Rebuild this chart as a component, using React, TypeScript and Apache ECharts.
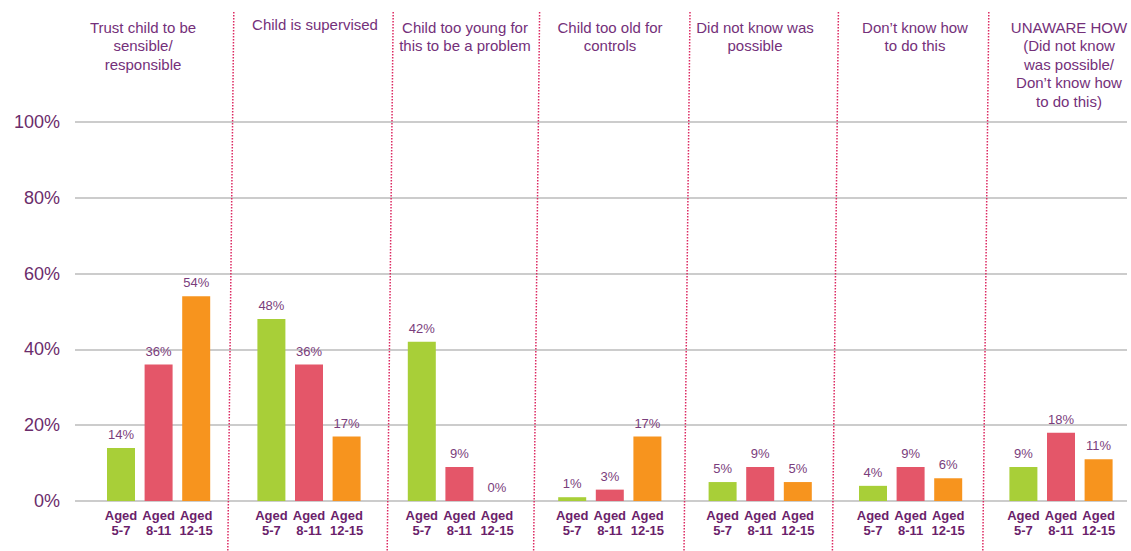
import React, { useEffect, useRef } from "react";
import * as echarts from "echarts";

const reasons = [
  "Trust child to be\nsensible/\nresponsible",
  "Child is supervised",
  "Child too young for\nthis to be a problem",
  "Child too old for\ncontrols",
  "Did not know was\npossible",
  "Don\u2019t know how\nto do this",
  "UNAWARE HOW\n(Did not know\nwas possible/\nDon\u2019t know how\nto do this)",
];
const ageGroups = ["Aged\n5-7", "Aged\n8-11", "Aged\n12-15"];
const aged5to7 = [14, 48, 42, 1, 5, 4, 9];
const aged8to11 = [36, 36, 9, 3, 9, 9, 18];
const aged12to15 = [54, 17, 0, 17, 5, 6, 11];
const yTicks = [0, 20, 40, 60, 80, 100];

const colors = ["#a8cf38", "#e45669", "#f7941e"];
const titleCenters = [143, 315, 465, 610, 755, 915, 1069];
const titleTops = [18, 15, 18, 18, 18, 18, 18];
const separatorShift = [-3, 6, 2, 2, 0, 0];
const FONT = "'Liberation Sans', Arial, Helvetica, sans-serif";

export default function App() {
  const ref = useRef<HTMLDivElement>(null);
  useEffect(() => {
    if (!ref.current) return;
    const chart = echarts.init(ref.current, undefined, { renderer: "svg" });

    const categories: string[] = [];
    const labelFor: string[] = [];
    reasons.forEach((_, g) => {
      ageGroups.forEach((a, i) => {
        categories.push(`${g}-${i}`);
        labelFor.push(a);
      });
      if (g < reasons.length - 1) {
        categories.push(`${g}-gap`);
        labelFor.push("");
      }
    });
    const seriesValues = [aged5to7, aged8to11, aged12to15];
    const series = seriesValues.map((vals, i) => {
      const data = categories.map((c) => {
        const [g, k] = c.split("-");
        if (k === String(i)) return vals[Number(g)];
        return "-";
      });
      return {
        type: "bar",
        name: ageGroups[i],
        xAxisIndex: 1,
        yAxisIndex: 1,
        data,
        barWidth: 28,
        barGap: "-100%",
        itemStyle: { color: colors[i] },
        label: {
          show: true,
          position: "top",
          distance: 7,
          formatter: "{c}%",
          color: "#7a3d7c",
          fontSize: 13,
          fontFamily: FONT,
        },
      };
    });

    chart.setOption({
      animation: false,
      grid: [
        { left: 75, right: 4, top: 122, bottom: 50 },
        { left: 102.2, width: 1015.2, top: 122, bottom: 50 },
      ],
      xAxis: [
        { type: "value", gridIndex: 0, show: false, min: 0, max: 1 },
        {
          type: "category",
          gridIndex: 1,
          data: categories,
          axisLine: { show: false },
          axisTick: { show: false },
          axisLabel: {
            interval: 0,
            margin: 6.5,
            lineHeight: 15,
            fontSize: 13,
            fontWeight: "bold",
            fontFamily: FONT,
            color: "#6b1f6b",
            formatter: (_v: string, idx: number) => labelFor[idx],
          },
        },
      ],
      yAxis: [
        {
          type: "value",
          gridIndex: 0,
          min: yTicks[0],
          max: yTicks[yTicks.length - 1],
          interval: 20,
          axisLine: { show: false },
          axisTick: { show: false },
          axisLabel: {
            margin: 15,
            fontSize: 18,
            fontFamily: FONT,
            color: "#6b2c6b",
            formatter: "{value}%",
          },
          splitLine: { lineStyle: { color: "#cccccc", width: 2 } },
        },
        {
          type: "value",
          gridIndex: 1,
          min: 0,
          max: 100,
          show: false,
          splitLine: { show: false },
        },
      ],
      series,
    });

    const graphics: any[] = [];
    reasons.forEach((r, g) => {
      graphics.push({
        type: "text",
        x: titleCenters[g],
        y: titleTops[g],
        style: {
          text: r,
          textAlign: "center",
          textVerticalAlign: "top",
          fontSize: 15,
          lineHeight: 18.5,
          fontFamily: FONT,
          fill: "#74307a",
        },
      });
      if (g < reasons.length - 1) {
        const cx =
          (chart.convertToPixel({ xAxisIndex: 1 }, `${g}-gap`) as number) + separatorShift[g];
        graphics.push({
          type: "line",
          shape: { x1: cx + 3, y1: 12, x2: cx - 3, y2: 551 },
          style: { stroke: "#dc2a62", lineWidth: 1.5, lineDash: [1.5, 1.5] },
          z: 10,
        });
      }
    });
    chart.setOption({ graphic: graphics });

    return () => chart.dispose();
  }, []);
  return (
    <div
      ref={ref}
      style={{ position: "absolute", left: 0, top: 0, width: 1131, height: 551, background: "#fff" }}
    />
  );
}
